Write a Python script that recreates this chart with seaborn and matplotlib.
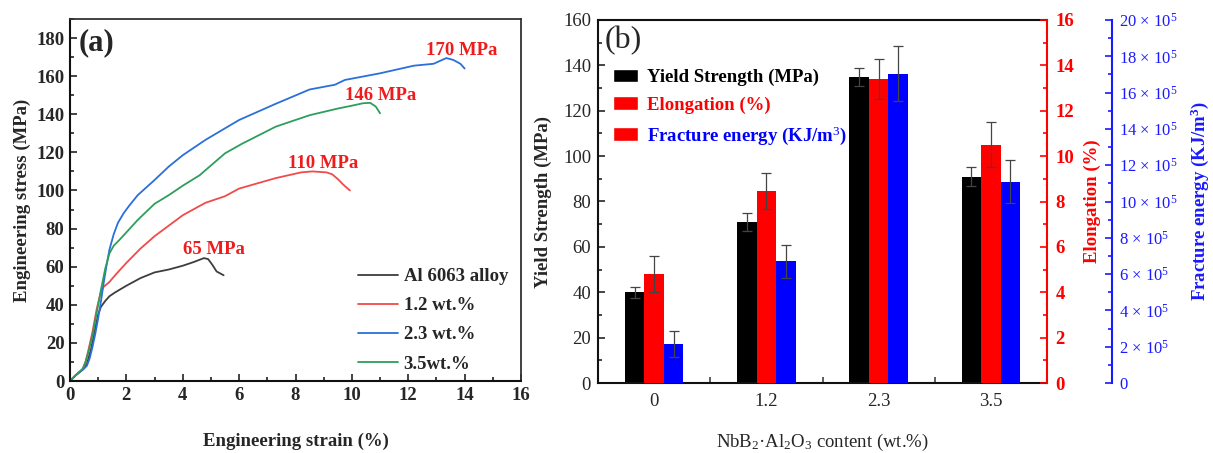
import numpy as np
import pandas as pd
import matplotlib
matplotlib.use("Agg")
import matplotlib.pyplot as plt
from matplotlib.ticker import MultipleLocator, FixedLocator, FuncFormatter
from matplotlib.patches import Patch
import seaborn as sns

# ---------------- tensile curves (strain %, stress MPa) ----------------
al6063_strain = [0, 0.2, 0.45, 0.6, 0.75, 0.9, 1.0, 1.1, 1.25, 1.4, 1.6, 2.0, 2.5, 3.0,
                 3.5, 4.0, 4.4, 4.75, 4.9, 5.05, 5.2, 5.45]
al6063_stress = [0, 3, 6, 9, 17, 28, 35, 39, 42, 44.5, 46.5, 50, 54, 57,
                 58.5, 60.5, 62.5, 64.5, 64, 61, 57.5, 55.5]

wt12_strain = [0, 0.2, 0.45, 0.55, 0.65, 0.8, 0.95, 1.1, 1.2, 1.4, 1.6, 2.0, 2.5, 3.0,
               3.5, 4.0, 4.8, 5.5, 6.0, 7.3, 8.2, 8.6, 9.1, 9.3, 9.5, 9.7, 9.93]
wt12_stress = [0, 3, 6, 10, 16, 26, 38, 47, 49.5, 52, 55.5, 62, 69.5, 76,
               81.5, 87, 93.5, 97, 101, 106.5, 109.5, 110, 109.5, 108.5, 106, 103, 100]

wt23_strain = [0, 0.2, 0.5, 0.6, 0.7, 0.8, 0.9, 1.0, 1.1, 1.2, 1.3, 1.4, 1.55, 1.7, 1.9,
               2.1, 2.4, 2.7, 3.0, 3.5, 4.0, 4.8, 6.0, 7.3, 8.5, 9.4, 9.75, 11.0, 12.2,
               12.9, 13.35, 13.6, 13.85, 14.0]
wt23_stress = [0, 3, 6.5, 8, 12, 18, 25, 33, 42, 52, 61, 69, 77, 83, 88,
               92, 97.5, 101.5, 105.5, 112.5, 118.5, 126.5, 137, 145.5, 153, 155.5, 158, 161.5, 165.5,
               166.5, 169.5, 168.5, 166.5, 164]

wt35_strain = [0, 0.2, 0.45, 0.55, 0.65, 0.8, 0.95, 1.1, 1.25, 1.4, 1.55, 1.75, 2.0, 2.4,
               3.0, 3.5, 4.0, 4.6, 5.5, 6.1, 7.3, 8.5, 9.5, 10.0, 10.4, 10.65, 10.85, 11.0]
wt35_stress = [0, 3, 6.5, 10, 15, 24, 36, 48, 59, 67, 71, 74, 78, 84.5,
               93, 97.5, 102.5, 108, 119.5, 124.5, 133.5, 139.5, 143, 144.5, 145.8, 146, 144, 140.5]

curve_labels = ["Al 6063 alloy", "1.2 wt.%", "2.3 wt.%", "3.5wt.%"]
curve_colors = ["#3d3d3d", "#f24a4a", "#2a6fdb", "#2e9e5b"]

# UTS annotations: text, x, y
uts_text = ["65 MPa", "110 MPa", "146 MPa", "170 MPa"]
uts_x = [5.1, 8.97, 11.03, 13.9]
uts_y = [69, 114, 150, 173.5]

# ---------------- bar data ----------------
contents = ["0", "1.2", "2.3", "3.5"]
yield_strength = [40, 71, 135, 91]
yield_err = [2.5, 4, 4, 4]
elongation = [4.8, 8.45, 13.4, 10.5]
elongation_err = [0.8, 0.8, 0.9, 1.0]
fracture_energy = [2.15e5, 6.7e5, 17.05e5, 11.1e5]
fracture_err = [0.7e5, 0.9e5, 1.5e5, 1.2e5]

series_names = ["Yield Strength (MPa)", "Elongation (%)", "Fracture energy (KJ/m$^{3}$)"]

# ---------------- style ----------------
sns.set_theme(style="ticks")
plt.rcParams["font.family"] = ["Liberation Serif", "DejaVu Serif"]
plt.rcParams["mathtext.fontset"] = "custom"
plt.rcParams["mathtext.rm"] = "Liberation Serif"
plt.rcParams["mathtext.it"] = "Liberation Serif:italic"
plt.rcParams["mathtext.bf"] = "Liberation Serif:bold"

W, H = 1213, 453
fig = plt.figure(figsize=(W / 100, H / 100), dpi=100)

def frac(x0, y0, x1, y1):
    return [x0 / W, 1 - y1 / H, (x1 - x0) / W, (y1 - y0) / H]

# ======================= panel (a) =======================
ax1 = fig.add_axes(frac(70, 19, 521, 381))
rows = []
for lab, xs, ys in zip(curve_labels,
                       [al6063_strain, wt12_strain, wt23_strain, wt35_strain],
                       [al6063_stress, wt12_stress, wt23_stress, wt35_stress]):
    for a, b in zip(xs, ys):
        rows.append((lab, a, b))
curves = pd.DataFrame(rows, columns=["sample", "strain", "stress"])
sns.lineplot(data=curves, x="strain", y="stress", hue="sample", hue_order=curve_labels,
             palette=dict(zip(curve_labels, curve_colors)),
             estimator=None, sort=False, lw=1.3, ax=ax1, legend=False)

ax1.set_xlim(0, 16)
ax1.set_ylim(0, 190)
ax1.xaxis.set_major_locator(MultipleLocator(2))
ax1.xaxis.set_minor_locator(MultipleLocator(1))
ax1.yaxis.set_major_locator(FixedLocator(np.arange(0, 181, 20)))
ax1.yaxis.set_minor_locator(FixedLocator(np.arange(10, 191, 10)))
ax1.tick_params(which="both", direction="in", top=False, right=False, width=1.2, color="#222222")
ax1.tick_params(which="major", length=5, labelsize=13.5, pad=4)
ax1.tick_params(which="minor", length=3)
for t in ax1.get_xticklabels() + ax1.get_yticklabels():
    t.set_fontweight("bold")
for s in ["left", "bottom"]:
    ax1.spines[s].set_linewidth(1.5)
    ax1.spines[s].set_color("#111111")
for s in ["top", "right"]:
    ax1.spines[s].set_linewidth(1.3)
    ax1.spines[s].set_color("#333333")
ax1.set_xlabel("Engineering strain (%)", fontsize=13.5, fontweight="bold", labelpad=21)
ax1.set_ylabel("Engineering stress (MPa)", fontsize=13.5, fontweight="bold", labelpad=4)

for txt, tx, ty in zip(uts_text, uts_x, uts_y):
    ax1.text(tx, ty, txt, color="#ee1c1c", fontsize=13.5, fontweight="bold",
             ha="center", va="center")
ax1.text(0.019, 0.975, "(a)", transform=ax1.transAxes, fontsize=22, fontweight="bold",
         ha="left", va="top")

handles = [plt.Line2D([], [], color=c, lw=1.3) for c in curve_colors]
leg1 = ax1.legend(handles, curve_labels, loc="upper left", bbox_to_anchor=(0.638, 0.312),
                  frameon=False, borderpad=0, borderaxespad=0, handlelength=2.15,
                  handletextpad=0.3, labelspacing=0.64, prop={"size": 13.5, "weight": "bold"})

# ======================= panel (b) =======================
ax2 = fig.add_axes(frac(598, 20, 1047, 383))
ax3 = ax2.twinx()
ax4 = ax2.twinx()

bar_colors = ["#000000", "#ff0000", "#0000ff"]
palette = dict(zip(series_names, bar_colors))
long = pd.DataFrame({
    "content": contents * 3,
    "series": np.repeat(series_names, len(contents)),
    "value": yield_strength + elongation + fracture_energy,
    "err": yield_err + elongation_err + fracture_err,
})

for ax, name in zip([ax2, ax3, ax4], series_names):
    sub = long[long["series"] == name]
    sns.barplot(data=sub, x="content", y="value", hue="series", hue_order=series_names,
                order=contents, palette=palette, dodge=True, width=0.52, errorbar=None,
                saturation=1, legend=False, ax=ax, zorder=2, linewidth=0, edgecolor="none")
    xs = [p.get_x() + p.get_width() / 2 for p in ax.patches]
    ax.errorbar(xs, sub["value"].to_numpy(), yerr=sub["err"].to_numpy(), fmt="none",
                ecolor="#444444", elinewidth=0.9, capsize=3.5, capthick=0.9, zorder=3)

ax2.set_xlim(-0.5, 3.5)
ax2.set_ylim(0, 160)
ax3.set_ylim(0, 16)
ax4.set_ylim(0, 20e5)

ax2.set_xticks(range(len(contents)))
ax2.set_xticklabels(contents)
ax2.xaxis.set_minor_locator(FixedLocator([0.5, 1.5, 2.5]))
ax2.tick_params(axis="x", which="major", length=0, labelsize=13.5, pad=7)
ax2.tick_params(axis="x", which="minor", direction="in", length=4, width=1.1, color="#333333")

ax2.yaxis.set_major_locator(MultipleLocator(20))
ax2.yaxis.set_minor_locator(MultipleLocator(10))
ax2.tick_params(axis="y", which="both", direction="in", width=1.2, labelsize=13.5, pad=5)
ax2.tick_params(axis="y", which="major", length=5)
ax2.tick_params(axis="y", which="minor", length=3)
ax2.spines["right"].set_visible(False)
for s in ["left", "bottom", "top"]:
    ax2.spines[s].set_linewidth(1.5)
    ax2.spines[s].set_color("#111111")
ax2.set_xlabel("NbB$_2$·Al$_2$O$_3$ content (wt.%)", fontsize=13.5, labelpad=16)
ax2.set_ylabel("Yield Strength (MPa)", fontsize=13.5, fontweight="bold", labelpad=8)

red = "#ff0000"
ax3.yaxis.set_major_locator(MultipleLocator(2))
ax3.yaxis.set_minor_locator(MultipleLocator(1))
ax3.tick_params(axis="y", which="both", direction="in", colors=red, width=1.2,
                labelsize=13.5, pad=6)
ax3.tick_params(axis="y", which="major", length=5)
ax3.tick_params(axis="y", which="minor", length=3)
for t in ax3.get_yticklabels():
    t.set_fontweight("bold")
for s in ["left", "top", "bottom"]:
    ax3.spines[s].set_visible(False)
ax3.spines["right"].set_color(red)
ax3.spines["right"].set_linewidth(1.5)
ax3.set_ylabel("Elongation (%)", fontsize=13.5, fontweight="bold", color=red, labelpad=7)

blue = "#1a1aff"
ax4.spines["right"].set_position(("axes", 1.145))
ax4.yaxis.set_major_locator(MultipleLocator(2e5))
ax4.yaxis.set_minor_locator(MultipleLocator(1e5))
ax4.yaxis.set_major_formatter(FuncFormatter(
    lambda v, pos: "0" if v == 0 else f"{int(round(v / 1e5))} × $\\mathregular{{10^{{5}}}}$"))
ax4.tick_params(axis="y", which="both", direction="in", colors=blue, width=1.2,
                labelsize=12, pad=5)
ax4.tick_params(axis="y", which="major", length=5)
ax4.tick_params(axis="y", which="minor", length=3)
for s in ["left", "top", "bottom"]:
    ax4.spines[s].set_visible(False)
ax4.spines["right"].set_color(blue)
ax4.spines["right"].set_linewidth(1.5)
ax4.set_ylabel("Fracture energy (KJ/m$^{\\mathbf{3}}$)", fontsize=13.5, fontweight="bold",
               color=blue, labelpad=8)

ax2.text(0.015, 0.985, "(b)", transform=ax2.transAxes, fontsize=23, ha="left", va="top")

leg_handles = [Patch(facecolor="#000000"), Patch(facecolor="#ff0000"), Patch(facecolor="#ff0000")]
leg2 = ax4.legend(leg_handles, series_names, loc="upper left", bbox_to_anchor=(0.033, 0.866),
                  frameon=False, borderpad=0, borderaxespad=0, handlelength=1.35,
                  handleheight=0.75, handletextpad=0.45, labelspacing=0.55,
                  prop={"size": 13.5, "weight": "bold"})
for t, c in zip(leg2.get_texts(), ["#000000", "#ff0000", "#0000ff"]):
    t.set_color(c)

fig.savefig("out.png", dpi=100)
